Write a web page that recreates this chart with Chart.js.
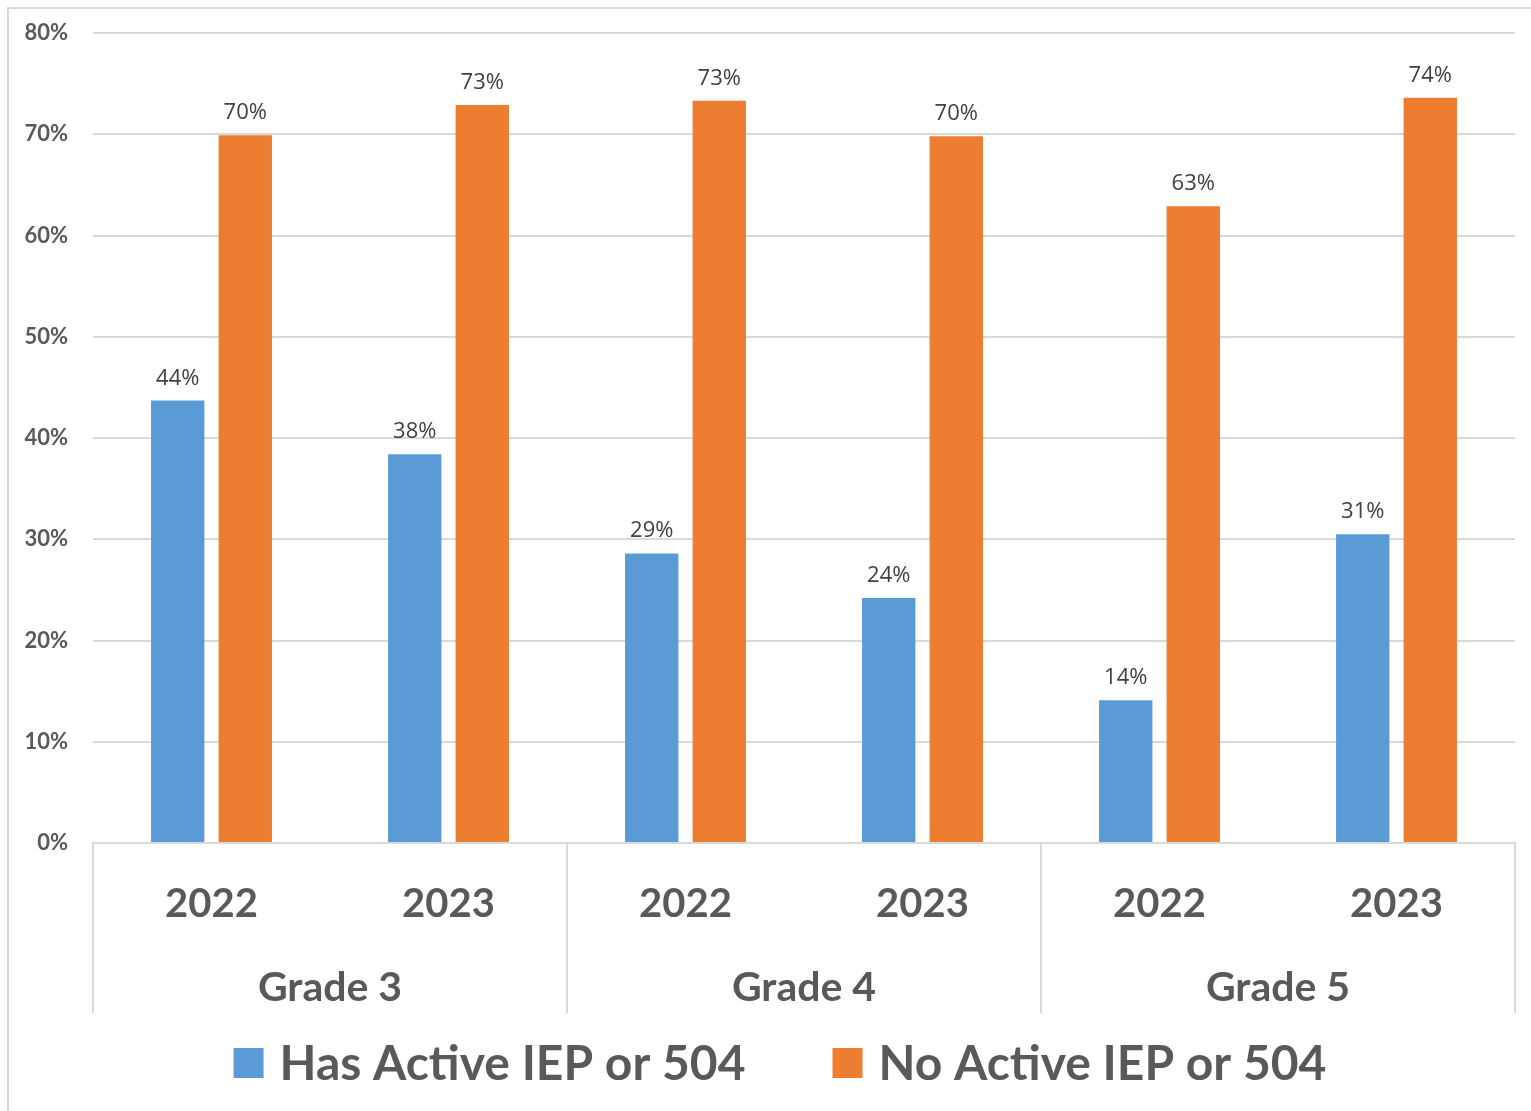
<!DOCTYPE html>
<html>
<head>
  <meta charset="UTF-8">
  <title>IEP or 504 by Grade</title>
  <script src="https://cdn.jsdelivr.net/npm/chart.js"></script>
  <style>
    html, body {
      margin: 0;
      padding: 0;
      background: #fff;
    }
    #wrap {
      width: 1531px;
      height: 1111px;
    }
  </style>
</head>
<body>
  <div id="wrap"><canvas id="chart" width="1531" height="1111"></canvas></div>

  <script>
    // chart data
    const years = ['2022', '2023', '2022', '2023', '2022', '2023'];
    const grades = ['Grade 3', 'Grade 4', 'Grade 5'];
    const hasIep = [43.7, 38.4, 28.6, 24.2, 14.1, 30.5];
    const noIep = [69.9, 72.9, 73.3, 69.8, 62.9, 73.6];
    const yTicks = [0, 10, 20, 30, 40, 50, 60, 70, 80];

    const textGray = '#595959';

    // light frame, grade row with separators, value labels and legend
    const extras = {
      id: 'extras',
      beforeDraw(chart) {
        const ctx = chart.ctx;
        ctx.save();
        ctx.strokeStyle = '#d9d9d9';
        ctx.lineWidth = 2;
        ctx.beginPath();
        ctx.moveTo(8, chart.height);
        ctx.lineTo(8, 8);
        ctx.lineTo(chart.width, 8);
        ctx.stroke();
        ctx.restore();
      },
      afterDraw(chart) {
        const ctx = chart.ctx;
        const x = chart.scales.x;
        const area = chart.chartArea;
        const step = (x.right - x.left) / grades.length;
        ctx.save();
        ctx.strokeStyle = '#d9d9d9';
        ctx.lineWidth = 2;
        for (let i = 0; i <= grades.length; i++) {
          const px = Math.round(x.left + i * step);
          ctx.beginPath();
          ctx.moveTo(px, area.bottom);
          ctx.lineTo(px, x.bottom);
          ctx.stroke();
        }
        ctx.fillStyle = textGray;
        ctx.font = 'bold 41px Lato';
        ctx.textAlign = 'center';
        ctx.textBaseline = 'middle';
        grades.forEach((g, i) => {
          ctx.fillText(g, x.left + (i + 0.5) * step, area.bottom + 145);
        });

        // value labels above each bar
        ctx.font = '22px "Open Sans"';
        ctx.fillStyle = '#404040';
        ctx.textBaseline = 'alphabetic';
        chart.data.datasets.forEach((ds, di) => {
          chart.getDatasetMeta(di).data.forEach((bar, i) => {
            ctx.fillText(Math.round(ds.data[i]) + '%', bar.x, bar.y - 16);
          });
        });

        // legend
        ctx.font = 'bold 48px Lato';
        ctx.textAlign = 'left';
        ctx.textBaseline = 'middle';
        const box = 30, gapText = 16, gapItem = 87;
        const items = chart.data.datasets.map(ds => ({
          label: ds.label,
          color: ds.backgroundColor,
          w: box + gapText + ctx.measureText(ds.label).width
        }));
        const total = items.reduce((s, it) => s + it.w, 0) + gapItem * (items.length - 1);
        let lx = (x.left + x.right) / 2 - 24 - total / 2;
        const ly = x.bottom + 50;
        items.forEach(it => {
          ctx.fillStyle = it.color;
          ctx.fillRect(lx, ly - box / 2, box, box);
          ctx.fillStyle = textGray;
          ctx.fillText(it.label, lx + box + gapText, ly + 2);
          lx += it.w + gapItem;
        });
        ctx.restore();
      }
    };

    const ctx = document.getElementById('chart').getContext('2d');
    new Chart(ctx, {
      type: 'bar',
      data: {
        labels: years,
        datasets: [
          {
            label: 'Has Active IEP or 504',
            data: hasIep,
            backgroundColor: '#5b9bd5',
            categoryPercentage: 0.57,
            barPercentage: 0.79
          },
          {
            label: 'No Active IEP or 504',
            data: noIep,
            backgroundColor: '#ed7d31',
            categoryPercentage: 0.57,
            barPercentage: 0.79
          }
        ]
      },
      options: {
        responsive: false,
        animation: false,
        layout: {
          padding: { top: 33, right: 16, left: 10, bottom: 98 }
        },
        plugins: {
          legend: { display: false },
          tooltip: { enabled: false }
        },
        scales: {
          x: {
            grid: { display: false },
            border: { color: '#d9d9d9', width: 2 },
            ticks: {
              color: textGray,
              font: { family: 'Lato', size: 40, weight: 'bold' },
              padding: 29
            },
            afterFit(scale) { scale.height = 170; }
          },
          y: {
            min: 0,
            max: 80,
            afterBuildTicks(scale) {
              scale.ticks = yTicks.map(v => ({ value: v }));
            },
            afterFit(scale) {
              scale.width = 83;
              scale.paddingTop = 0;
              scale.paddingBottom = 0;
            },
            grid: { color: '#d9d9d9', lineWidth: 2, drawTicks: false },
            border: { display: false },
            ticks: {
              color: textGray,
              font: { family: 'Lato', size: 22, weight: 'bold' },
              padding: 25,
              callback: v => v + '%'
            }
          }
        }
      },
      plugins: [extras]
    });
  </script>
</body>
</html>
